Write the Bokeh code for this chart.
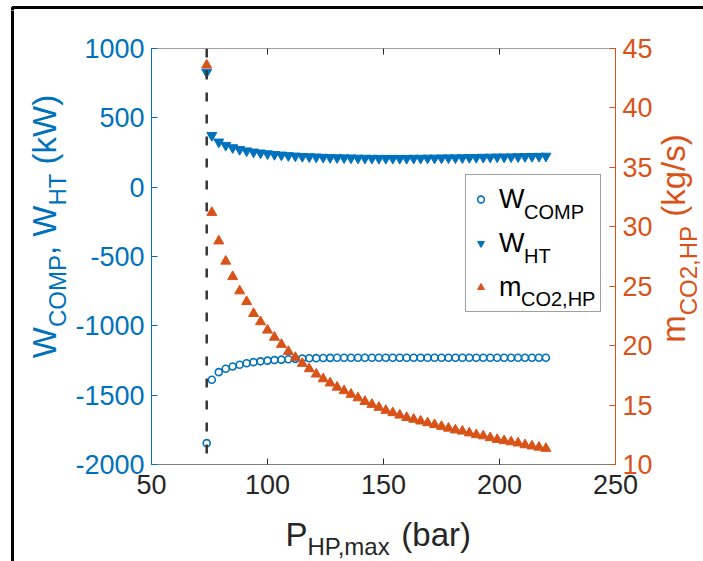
import math
from bokeh.plotting import figure
from bokeh.layouts import row, column
from bokeh.models import (Range1d, LinearAxis, FixedTicker, Span, Label, Legend,
                          LegendItem, BoxAnnotation, PrintfTickFormatter)
from bokeh.embed import file_html
from bokeh.resources import INLINE

# ---------------- data ----------------
P_HP_max = [73.8, 76, 79, 82, 85, 88, 91, 94, 97, 100, 103, 106, 109, 112, 115, 118,
            121, 124, 127, 130, 133, 136, 139, 142, 145, 148, 151, 154, 157, 160,
            163, 166, 169, 172, 175, 178, 181, 184, 187, 190, 193, 196, 199, 202,
            205, 208, 211, 214, 217, 220]
W_COMP = [-1846, -1389, -1334, -1310, -1293, -1281, -1270, -1262, -1256, -1251, -1247,
          -1244, -1241, -1238, -1236, -1234, -1233, -1232, -1231, -1230, -1230, -1230,
          -1230, -1230, -1230, -1230, -1230, -1230, -1230, -1230, -1230, -1230, -1230,
          -1230, -1230, -1230, -1230, -1230, -1230, -1230, -1230, -1230, -1230, -1230,
          -1230, -1230, -1230, -1230, -1230, -1230]
W_HT = [829, 373, 326, 302, 285, 272, 262, 254, 247, 241, 236, 232, 228, 225, 222, 220,
        218, 216, 214, 213, 212, 211, 210, 209, 209, 208, 208, 208, 208, 208, 209,
        209, 210, 210, 211, 212, 212, 213, 214, 215, 216, 217, 218, 218, 219, 220,
        221, 222, 223, 224]
m_CO2_HP = [43.6, 31.2, 28.8, 27.1, 25.8, 24.6, 23.7, 22.7, 22.0, 21.3, 20.7, 20.1, 19.5,
            19.0, 18.5, 18.05, 17.6, 17.2, 16.85, 16.5, 16.2, 15.9, 15.6, 15.3, 15.05,
            14.8, 14.55, 14.35, 14.15, 13.95, 13.8, 13.65, 13.5, 13.35, 13.2, 13.05,
            12.9, 12.8, 12.65, 12.5, 12.4, 12.25, 12.1, 12.0, 11.9, 11.8, 11.65, 11.55,
            11.45, 11.35]
P_crit = 73.8

x_ticks = [50, 100, 150, 200, 250]
y_left_ticks = [-2000, -1500, -1000, -500, 0, 500, 1000]
y_right_ticks = [10, 15, 20, 25, 30, 35, 40, 45]

legend_main = ["W", "W", "m"]
legend_sub = ["COMP", "HT", "CO2,HP"]

# ---------------- style / page geometry ----------------
BLUE = "#0072BD"
ORANGE = "#D95319"
DARK = "#262626"
FONT = "Liberation Sans"
W, H = 703, 561
FL, FR, FT, FB = 150, 617, 48, 464          # plot frame in page pixels
TOP_H = 10                                   # top strip height
LEFT_W = 72                                  # left strip width
RIGHT_X = 655                                # right strip start
BOTTOM_Y = 508                               # bottom strip start
BORDER_X, BORDER_Y = 12, 5                   # outer black frame of the picture
TICK_FS = 27
LAB_FS = 33
SUB_FS = 24
BASE_SHIFT = 0.37                            # label anchor -> glyph baseline (em)

# ---------------- main chart ----------------
p = figure(width=RIGHT_X - LEFT_W, height=BOTTOM_Y - TOP_H,
           x_range=Range1d(50, 250), y_range=Range1d(-2000, 1000),
           output_backend="svg", toolbar_location=None, title=None,
           min_border_left=FL - LEFT_W, min_border_right=RIGHT_X - FR,
           min_border_top=FT - TOP_H, min_border_bottom=BOTTOM_Y - FB)
p.extra_y_ranges = {"m": Range1d(10, 45)}
p.xgrid.visible = False
p.ygrid.visible = False
p.outline_line_color = None
p.background_fill_color = "white"
p.border_fill_color = "white"


def style_axis(ax, color, text_color, line_color, standoff=8):
    ax.axis_line_color = line_color
    ax.axis_line_width = 1
    ax.major_tick_line_color = color
    ax.major_tick_in = 6
    ax.major_tick_out = 0
    ax.minor_tick_line_color = None
    ax.major_label_text_color = text_color
    ax.major_label_text_font = FONT
    ax.major_label_text_font_size = f"{TICK_FS}px"
    ax.major_label_standoff = standoff


xa = p.xaxis[0]
xa.ticker = FixedTicker(ticks=x_ticks)
style_axis(xa, DARK, DARK, "#808080", 10)

ya = p.yaxis[0]
ya.ticker = FixedTicker(ticks=y_left_ticks)
ya.formatter = PrintfTickFormatter(format="%d")
style_axis(ya, BLUE, BLUE, BLUE, 7)

ra = LinearAxis(y_range_name="m", ticker=FixedTicker(ticks=y_right_ticks))
style_axis(ra, ORANGE, ORANGE, ORANGE, 7)
p.add_layout(ra, "right")

ta = LinearAxis(ticker=FixedTicker(ticks=x_ticks))
style_axis(ta, DARK, None, "#a0a0a0", 0)
p.add_layout(ta, "above")

p.add_layout(Span(location=P_crit, dimension="height", line_color="#353535",
                  line_width=2.5, line_dash="9 13"))

r1 = p.scatter(P_HP_max, W_COMP, marker="circle", size=7, fill_color=None,
               line_color=BLUE, line_width=1.6)
r2 = p.scatter(P_HP_max, W_HT, marker="inverted_triangle", size=10, fill_color=BLUE,
               line_color=BLUE)
r3 = p.scatter(P_HP_max, m_CO2_HP, marker="triangle", size=10, fill_color=ORANGE,
               line_color=ORANGE, y_range_name="m")

# legend
LEG_L, LEG_T, LEG_R, LEG_B = 464, 177, 598, 312
LEG_FS = 27
LEG_SUB_FS = 20
pad = 6
item_h = 36
spacing = (LEG_B - LEG_T - 2 * pad - 3 * item_h) / 2
leg = Legend(items=[LegendItem(label=legend_main[i], renderers=[r])
                    for i, r in enumerate([r1, r2, r3])],
             location=(LEG_L - FL, FB - LEG_B), orientation="vertical",
             padding=pad, margin=0, spacing=int(round(spacing)),
             glyph_width=17, glyph_height=item_h, label_height=item_h,
             label_standoff=10, label_width=LEG_R - LEG_L - 2 * pad - 17 - 10,
             label_text_font=FONT, label_text_font_size=f"{LEG_FS}px",
             label_text_color="black", border_line_color="#404040",
             border_line_width=1, background_fill_alpha=0.0)
p.add_layout(leg)

ARIAL = {"W": .944, "C": .722, "O": .778, "M": .833, "P": .667, "H": .722, "T": .611,
         ",": .278, " ": .278, "(": .333, ")": .333, "k": .5, "m": .833, "2": .556,
         "g": .556, "/": .278, "s": .5, "a": .556, "x": .5, "b": .556, "r": .333}


def tw(text, fs):
    return sum(ARIAL.get(c, .556) for c in text) * fs


for i, (mtxt, stxt) in enumerate(zip(legend_main, legend_sub)):
    row_c = LEG_T + pad + item_h / 2 + i * (item_h + spacing)
    sx = LEG_L + pad + 17 + 10 + tw(mtxt, LEG_FS)
    base_y = row_c + 18 - BASE_SHIFT * LEG_SUB_FS
    p.add_layout(Label(x=sx - FL, y=FB - base_y, x_units="screen",
                       y_units="screen", text=stxt, text_font=FONT,
                       text_font_size=f"{LEG_SUB_FS}px", text_color="black",
                       text_align="left", text_baseline="alphabetic", level="overlay"))


# ---------------- strips around the chart (page-pixel coordinates) ----------------
def strip(x0, x1, y0, y1, fx0=None, fx1=None):
    fx0 = x0 if fx0 is None else fx0
    fx1 = x1 if fx1 is None else fx1
    f = figure(width=x1 - x0, height=y1 - y0, x_range=Range1d(fx0, fx1),
               y_range=Range1d(H - y1, H - y0), output_backend="svg",
               toolbar_location=None, title=None, min_border=0,
               min_border_left=fx0 - x0, min_border_right=x1 - fx1,
               min_border_top=0, min_border_bottom=0,
               x_axis_location=None, y_axis_location=None)
    for g in f.grid:
        g.visible = False
    f.outline_line_color = None
    f.background_fill_color = "white"
    f.border_fill_color = "white"
    return f


def put(f, x, y, text, fs, color, vertical):
    # (x, y): desired glyph baseline start in page pixels
    if vertical:
        ax, ay, ang = x - BASE_SHIFT * fs, y, math.pi / 2
    else:
        ax, ay, ang = x, y - BASE_SHIFT * fs, 0.0
    f.add_layout(Label(x=ax, y=H - ay, text=text, text_font=FONT,
                       text_font_size=f"{fs}px", text_color=color, angle=ang,
                       text_align="left", text_baseline="alphabetic"))


def pieces_total(pieces):
    return sum(tw(t, SUB_FS if s else LAB_FS) for t, s in pieces)


def composed(f, pieces, center, base, sub_off, color, vertical):
    """Draw main text + subscripts piece by piece, centred on `center`."""
    step = -1 if vertical else 1
    pos = center - step * pieces_total(pieces) / 2
    for txt, is_sub in pieces:
        fs = SUB_FS if is_sub else LAB_FS
        lead = len(txt) - len(txt.lstrip(" "))
        pos += step * tw(" " * lead, fs)
        body = txt.lstrip(" ")
        b = base + (sub_off if is_sub else 0)
        if vertical:
            put(f, b, pos, body, fs, color, True)
        else:
            put(f, pos, b, body, fs, color, False)
        pos += step * tw(body, fs)


left_pieces = [("W", False), ("COMP", True), (", W", False), ("HT", True), (" (kW)", False)]
right_pieces = [("m", False), ("CO2,HP", True), (" (kg/s)", False)]
bottom_pieces = [("P", False), ("HP,max", True), (" (bar)", False)]

top_strip = strip(0, W, 0, TOP_H)
left_strip = strip(0, LEFT_W, TOP_H, H)
right_strip = strip(RIGHT_X, W, TOP_H, H)
bottom_strip = strip(LEFT_W, RIGHT_X, BOTTOM_Y, H, FL, FR)

LEFT_CY, RIGHT_CY, BOTTOM_CX = 226, 238, 378
composed(left_strip, left_pieces, LEFT_CY, 56, 10, BLUE, True)
composed(right_strip, right_pieces, RIGHT_CY, 685, 12, ORANGE, True)
composed(bottom_strip, bottom_pieces, BOTTOM_CX, 546, 9, DARK, False)

# outer black frame (top and left edges of the picture border)
for f in (top_strip, left_strip):
    f.add_layout(BoxAnnotation(left=BORDER_X, right=W + 100, top=H - BORDER_Y,
                               bottom=-100, fill_alpha=0, line_color="black",
                               line_alpha=1.0, line_width=3))

layout = column(top_strip,
                row(left_strip, column(p, bottom_strip, spacing=0), right_strip,
                    spacing=0),
                spacing=0)

open("out.html", "w").write(file_html(layout, INLINE))
